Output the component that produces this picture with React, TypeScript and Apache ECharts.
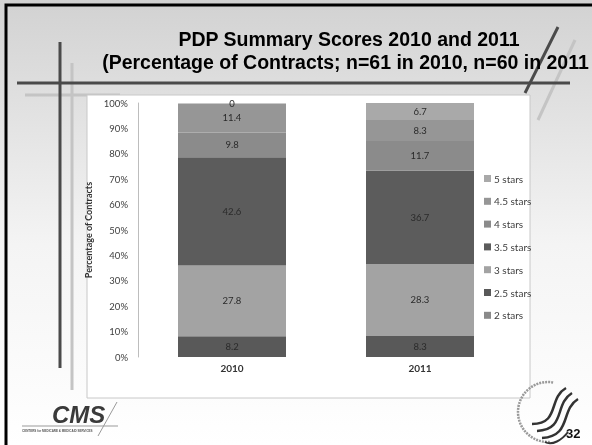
import React, { useEffect, useRef } from "react";
import * as echarts from "echarts";

const categories = ["2010", "2011"];
const twoStars: (number | null)[] = [null, null];
const twoHalfStars = [8.2, 8.3];
const threeStars = [27.8, 28.3];
const threeHalfStars = [42.6, 36.7];
const fourStars = [9.8, 11.7];
const fourHalfStars = [11.4, 8.3];
const fiveStars = [0, 6.7];
const yTicks = [0, 10, 20, 30, 40, 50, 60, 70, 80, 90, 100];

const FONT = "Lato, 'Open Sans', sans-serif";
const TFONT = "'Liberation Sans', Arial, sans-serif";

export default function App() {
  const ref = useRef<HTMLDivElement>(null);
  useEffect(() => {
    if (!ref.current) return;
    const chart = echarts.init(ref.current, undefined, { renderer: "svg" });
    const mk = (name: string, data: (number | null)[], color: string) => ({
      name,
      type: "bar",
      stack: "total",
      data,
      barWidth: 108,
      itemStyle: { color },
      label: {
        show: true,
        position: "inside",
        fontSize: 9.5,
        fontFamily: FONT,
        color: "#2a2a2a",
        formatter: (p: any) => String(p.value),
      },
    });
    const dark = { stroke: "#4a4a4a", lineWidth: 3 };
    const light = { stroke: "#c4c4c4", lineWidth: 3 };
    chart.setOption({
      animation: false,
      textStyle: { fontFamily: FONT },
      graphic: [
        {
          type: "rect",
          z: -20,
          shape: { x: 0, y: 0, width: 592, height: 445 },
          style: {
            fill: new echarts.graphic.LinearGradient(0, 0, 0, 1, [
              { offset: 0, color: "#d2d2d2" },
              { offset: 0.55, color: "#f4f4f4" },
              { offset: 1, color: "#ffffff" },
            ]),
          },
        },
        // decorative lines
        { type: "line", z: -10, shape: { x1: 25, y1: 95, x2: 120, y2: 95 }, style: light },
        { type: "line", z: -10, shape: { x1: 72, y1: 63, x2: 72, y2: 390 }, style: light },
        { type: "line", z: -9, shape: { x1: 17, y1: 83, x2: 570, y2: 83 }, style: dark },
        { type: "line", z: -9, shape: { x1: 60, y1: 42, x2: 60, y2: 368 }, style: dark },
        { type: "line", z: -10, shape: { x1: 575, y1: 40, x2: 538, y2: 120 }, style: light },
        { type: "line", z: -9, shape: { x1: 558, y1: 27, x2: 525, y2: 93 }, style: dark },
        // white chart box
        {
          type: "rect",
          z: -5,
          shape: { x: 87, y: 95, width: 443, height: 303 },
          style: { fill: "#ffffff", stroke: "#c8c8c8", lineWidth: 1 },
        },
        // title
        {
          type: "text",
          z: 5,
          x: 349,
          y: 39,
          style: {
            text: "PDP Summary Scores 2010 and 2011",
            font: `bold 19.5px ${TFONT}`,
            fill: "#000",
            align: "center",
            verticalAlign: "middle",
          },
        },
        {
          type: "text",
          z: 5,
          x: 345.5,
          y: 62,
          style: {
            text: "(Percentage of Contracts; n=61 in 2010, n=60 in 2011",
            font: `bold 19.5px ${TFONT}`,
            fill: "#000",
            align: "center",
            verticalAlign: "middle",
          },
        },
        // CMS logo
        {
          type: "text",
          z: 5,
          x: 52,
          y: 414,
          style: {
            text: "CMS",
            font: `italic bold 24px ${TFONT}`,
            fill: "#3a3a3a",
            verticalAlign: "middle",
          },
        },
        { type: "line", z: 5, shape: { x1: 22, y1: 426, x2: 118, y2: 426 }, style: { stroke: "#9a9a9a", lineWidth: 1 } },
        { type: "line", z: 5, shape: { x1: 117, y1: 402, x2: 98, y2: 436 }, style: { stroke: "#9a9a9a", lineWidth: 1 } },
        {
          type: "text",
          z: 5,
          x: 22,
          y: 431,
          style: {
            text: "CENTERS for MEDICARE & MEDICAID SERVICES",
            font: "bold 3px sans-serif",
            fill: "#555",
            verticalAlign: "middle",
          },
        },
        // HHS seal approximation
        {
          type: "arc",
          z: 5,
          shape: { cx: 548, cy: 412, r: 30, startAngle: -1.4, endAngle: 1.5, clockwise: false },
          style: { stroke: "#9a9a9a", lineWidth: 2.5, lineDash: [2, 1], fill: null },
        },
        { type: "bezierCurve", z: 6, shape: { x1: 532, y1: 424, x2: 566, y2: 388, cpx1: 560, cpy1: 424, cpx2: 548, cpy2: 398 }, style: { stroke: "#333", lineWidth: 2.5, fill: null } },
        { type: "bezierCurve", z: 6, shape: { x1: 537, y1: 431, x2: 572, y2: 393, cpx1: 566, cpy1: 430, cpx2: 554, cpy2: 404 }, style: { stroke: "#333", lineWidth: 2.5, fill: null } },
        { type: "bezierCurve", z: 6, shape: { x1: 542, y1: 438, x2: 578, y2: 399, cpx1: 572, cpy1: 436, cpx2: 560, cpy2: 410 }, style: { stroke: "#333", lineWidth: 2.5, fill: null } },
        { type: "bezierCurve", z: 6, shape: { x1: 545, y1: 442, x2: 568, y2: 432, cpx1: 552, cpy1: 446, cpx2: 562, cpy2: 440 }, style: { stroke: "#333", lineWidth: 2, fill: null } },
        {
          type: "text",
          z: 7,
          x: 566,
          y: 433,
          style: {
            text: "32",
            font: `bold 13px ${TFONT}`,
            fill: "#111",
            verticalAlign: "middle",
          },
        },
        // slide border
        {
          type: "rect",
          z: 10,
          shape: { x: 6, y: 5, width: 620, height: 470 },
          style: { fill: null, stroke: "#000", lineWidth: 3 },
        },
      ],
      grid: { left: 138, right: 78, top: 103, bottom: 88, containLabel: false },
      legend: {
        orient: "vertical",
        left: 479,
        top: 168.5,
        itemWidth: 7,
        itemHeight: 7,
        itemGap: 12.8,
        icon: "rect",
        textStyle: { fontSize: 10, color: "#404040", fontFamily: FONT, padding: [0, 0, 0, -2] },
        data: ["5 stars", "4.5 stars", "4 stars", "3.5 stars", "3 stars", "2.5 stars", "2 stars"],
      },
      xAxis: {
        type: "category",
        data: categories,
        axisLine: { show: false },
        axisTick: { show: false },
        axisLabel: { fontSize: 10, fontWeight: "bold", color: "#333", margin: 6, fontFamily: FONT },
      },
      yAxis: {
        type: "value",
        min: yTicks[0],
        max: yTicks[yTicks.length - 1],
        interval: 10,
        name: "Percentage of Contracts",
        nameLocation: "middle",
        nameGap: 42,
        nameTextStyle: { fontSize: 9, fontWeight: "bold", color: "#333", fontFamily: FONT },
        splitLine: { show: false },
        axisLine: { show: true, lineStyle: { color: "#bdbdbd" } },
        axisTick: { show: false },
        axisLabel: {
          fontSize: 9.5,
          color: "#404040",
          margin: 10,
          fontFamily: FONT,
          formatter: "{value}%",
        },
      },
      series: [
        mk("2 stars", twoStars, "#8a8a8a"),
        mk("2.5 stars", twoHalfStars, "#595959"),
        mk("3 stars", threeStars, "#a3a3a3"),
        mk("3.5 stars", threeHalfStars, "#5c5c5c"),
        mk("4 stars", fourStars, "#8b8b8b"),
        mk("4.5 stars", fourHalfStars, "#969696"),
        mk("5 stars", fiveStars, "#a9a9a9"),
      ],
    });
    return () => chart.dispose();
  }, []);
  return (
    <div
      ref={ref}
      style={{ position: "fixed", left: 0, top: 0, width: 592, height: 445 }}
    />
  );
}
